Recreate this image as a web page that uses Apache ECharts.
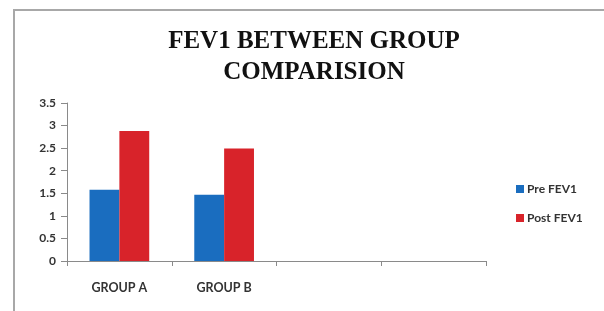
<!DOCTYPE html>
<html>
<head>
<meta charset="utf-8">
<script src="https://cdn.jsdelivr.net/npm/echarts@6/dist/echarts.min.js"></script>
<style>
  html, body { margin: 0; padding: 0; background: #fff; }
  #chart { width: 604px; height: 311px; }
</style>
</head>
<body>
<div id="chart"></div>
<script>
// FEV1 between groups
const categories = ['GROUP A', 'GROUP B', '', ''];
const preFev1 = [1.58, 1.47];
const postFev1 = [2.88, 2.49];
const yTicks = { min: 0, max: 3.5, interval: 0.5 };

const chart = echarts.init(document.getElementById('chart'));
const option = {
  backgroundColor: '#fff',
  animation: false,
  textStyle: { fontFamily: 'Lato, "Open Sans", sans-serif' },
  title: {
    text: 'FEV1 BETWEEN GROUP\nCOMPARISION',
    left: 309,
    textAlign: 'center',
    top: 21,
    textStyle: {
      fontFamily: '"Liberation Serif", "DejaVu Serif", serif',
      fontWeight: 'bold',
      fontSize: 25,
      lineHeight: 31,
      color: '#111'
    }
  },
  graphic: [{
    type: 'rect',
    shape: { x: 14, y: 10, width: 640, height: 340 },
    style: { fill: null, stroke: '#a8a8a8', lineWidth: 2 },
    silent: true,
    z: -1
  }],
  legend: {
    orient: 'vertical',
    left: 511,
    top: 178,
    icon: 'rect',
    itemWidth: 8,
    itemHeight: 8,
    itemGap: 17,
    textStyle: { fontSize: 12, fontWeight: 'bold', color: '#333', padding: [0, 0, 0, -2] },
    data: ['Pre FEV1', 'Post FEV1']
  },
  grid: { left: 67, right: 118, top: 103, bottom: 50 },
  xAxis: {
    type: 'category',
    data: categories,
    axisLine: { lineStyle: { color: '#8a8a8a', width: 1 } },
    axisTick: { show: true, length: 5, lineStyle: { color: '#8a8a8a' } },
    axisLabel: { color: '#333', fontSize: 12.5, fontWeight: 'bold', margin: 20, interval: 0 }
  },
  yAxis: {
    type: 'value',
    min: yTicks.min,
    max: yTicks.max,
    interval: yTicks.interval,
    splitLine: { show: false },
    axisLine: { show: true, lineStyle: { color: '#8a8a8a', width: 1 } },
    axisTick: { show: true, length: 6, lineStyle: { color: '#8a8a8a' } },
    axisLabel: { color: '#333', fontSize: 12, fontWeight: 'bold', margin: 11 }
  },
  series: [
    {
      name: 'Pre FEV1',
      type: 'bar',
      data: preFev1,
      barGap: '0%',
      barCategoryGap: '43%',
      itemStyle: { color: '#1a6dbf' }
    },
    {
      name: 'Post FEV1',
      type: 'bar',
      data: postFev1,
      itemStyle: { color: '#d8232a' }
    }
  ]
};
chart.setOption(option);
</script>
</body>
</html>
